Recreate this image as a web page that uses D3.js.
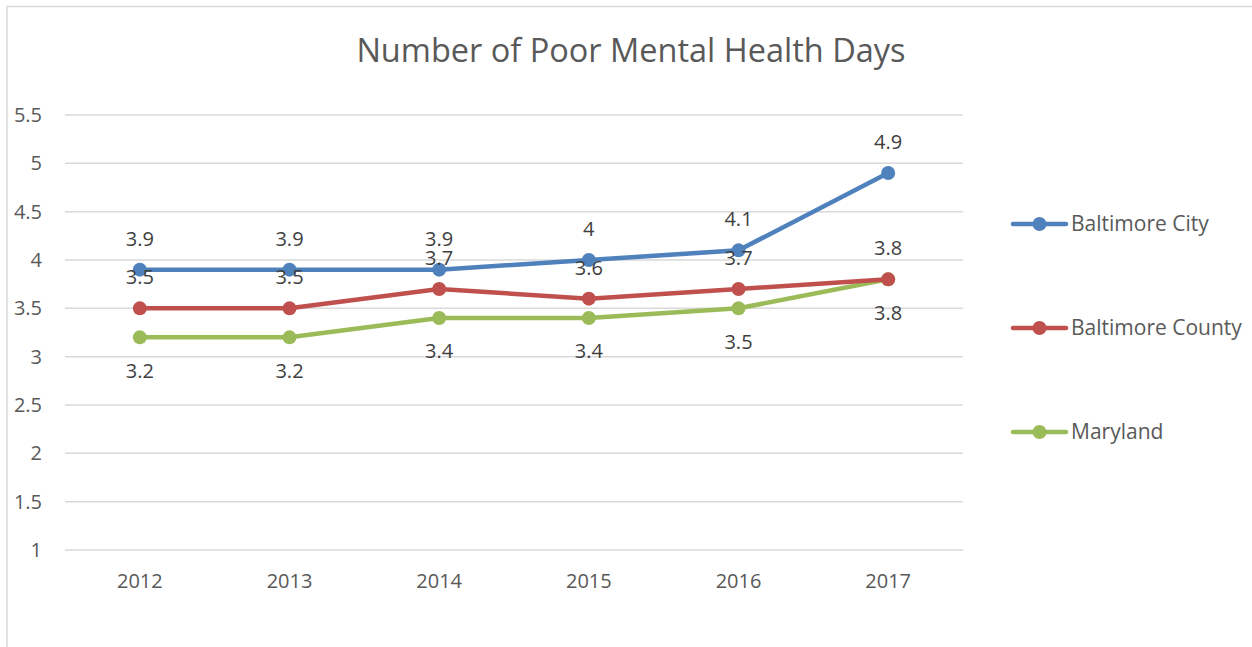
<!DOCTYPE html>
<html>
<head>
<meta charset="utf-8">
<script src="https://cdn.jsdelivr.net/npm/d3@7"></script>
<style>
  html, body { margin: 0; padding: 0; background: #fff; }
  svg { display: block; }
</style>
</head>
<body>
<svg id="chart" width="1252" height="647"></svg>
<script>
// Chart data
const years = ["2012", "2013", "2014", "2015", "2016", "2017"];
const baltimoreCity = [3.9, 3.9, 3.9, 4.0, 4.1, 4.9];
const baltimoreCounty = [3.5, 3.5, 3.7, 3.6, 3.7, 3.8];
const maryland = [3.2, 3.2, 3.4, 3.4, 3.5, 3.8];
const yTicks = [1, 1.5, 2, 2.5, 3, 3.5, 4, 4.5, 5, 5.5];
const seriesNames = ["Baltimore City", "Baltimore County", "Maryland"];

const font = "'Open Sans', sans-serif";
const textColor = "#595959";

const series = [
  { name: seriesNames[0], values: baltimoreCity, color: "#4F81BD", labelPos: years.map(() => "above") },
  { name: seriesNames[1], values: baltimoreCounty, color: "#C0504D", labelPos: years.map(() => "above") },
  { name: seriesNames[2], values: maryland, color: "#9BBB59", labelPos: years.map(() => "below") }
];

const svg = d3.select("#chart");

// Chart area border
svg.append("rect")
  .attr("x", 7).attr("y", 6.5)
  .attr("width", 1260).attr("height", 660)
  .attr("fill", "#fff")
  .attr("stroke", "#d9d9d9").attr("stroke-width", 1.5);

const plot = { left: 65, right: 963, top: 115, bottom: 550 };

const x = d3.scaleBand().domain(years).range([plot.left, plot.right]);
const y = d3.scaleLinear().domain([1, 5.5]).range([plot.bottom, plot.top]);
const cx = d => x(d) + x.bandwidth() / 2;

// Title
svg.append("text")
  .attr("x", 631).attr("y", 62)
  .attr("text-anchor", "middle")
  .attr("font-family", font).attr("font-size", 32.5)
  .attr("fill", textColor)
  .text("Number of Poor Mental Health Days");

// Horizontal gridlines
svg.append("g")
  .selectAll("line")
  .data(yTicks)
  .join("line")
  .attr("x1", plot.left).attr("x2", plot.right)
  .attr("y1", d => y(d)).attr("y2", d => y(d))
  .attr("stroke", "#d9d9d9").attr("stroke-width", 1.5);

// Y axis labels
const yAxis = d3.axisLeft(y).tickValues(yTicks).tickSize(0).tickPadding(0)
  .tickFormat(d => String(d));
svg.append("g")
  .attr("transform", `translate(${42},0)`)
  .call(yAxis)
  .call(g => g.select(".domain").remove())
  .call(g => g.selectAll("text")
    .attr("font-family", font).attr("font-size", 20)
    .attr("fill", textColor));

// X axis labels
const xAxis = d3.axisBottom(x).tickSize(0).tickPadding(0);
svg.append("g")
  .attr("transform", `translate(0,${574})`)
  .call(xAxis)
  .call(g => g.select(".domain").remove())
  .call(g => g.selectAll("text")
    .attr("font-family", font).attr("font-size", 20)
    .attr("fill", textColor));

const line = d3.line()
  .x((d, i) => cx(years[i]))
  .y(d => y(d));

// Lines and markers (Maryland first so the city line sits on top)
const seriesG = svg.append("g");
series.slice().reverse().forEach(s => {
  const g = seriesG.append("g");
  g.append("path")
    .datum(s.values)
    .attr("d", line)
    .attr("fill", "none")
    .attr("stroke", s.color)
    .attr("stroke-width", 4.5)
    .attr("stroke-linejoin", "round")
    .attr("stroke-linecap", "round");
  g.selectAll("circle")
    .data(s.values)
    .join("circle")
    .attr("cx", (d, i) => cx(years[i]))
    .attr("cy", d => y(d))
    .attr("r", 7)
    .attr("fill", s.color);
});

// Data labels
const labelsG = svg.append("g");
series.forEach(s => {
  labelsG.selectAll(null)
    .data(s.values)
    .join("text")
    .attr("x", (d, i) => cx(years[i]))
    .attr("y", (d, i) => s.labelPos[i] === "above" ? y(d) - 24 : y(d) + 26)
    .attr("dy", (d, i) => s.labelPos[i] === "above" ? 0 : "0.71em")
    .attr("text-anchor", "middle")
    .attr("font-family", font).attr("font-size", 20)
    .attr("fill", "#404040")
    .text(d => String(d));
});

// Legend
const legendY = [224, 328, 432];
const legend = svg.append("g");
series.forEach((s, i) => {
  const g = legend.append("g").attr("transform", `translate(0,${legendY[i]})`);
  g.append("line")
    .attr("x1", 1013).attr("x2", 1066)
    .attr("y1", 0).attr("y2", 0)
    .attr("stroke", s.color).attr("stroke-width", 4.5)
    .attr("stroke-linecap", "round");
  g.append("circle")
    .attr("cx", 1039.5).attr("cy", 0).attr("r", 7)
    .attr("fill", s.color);
  g.append("text")
    .attr("x", 1071).attr("y", 0)
    .attr("dy", "0.35em")
    .attr("font-family", font).attr("font-size", 21)
    .attr("fill", textColor)
    .text(s.name);
});
</script>
</body>
</html>
